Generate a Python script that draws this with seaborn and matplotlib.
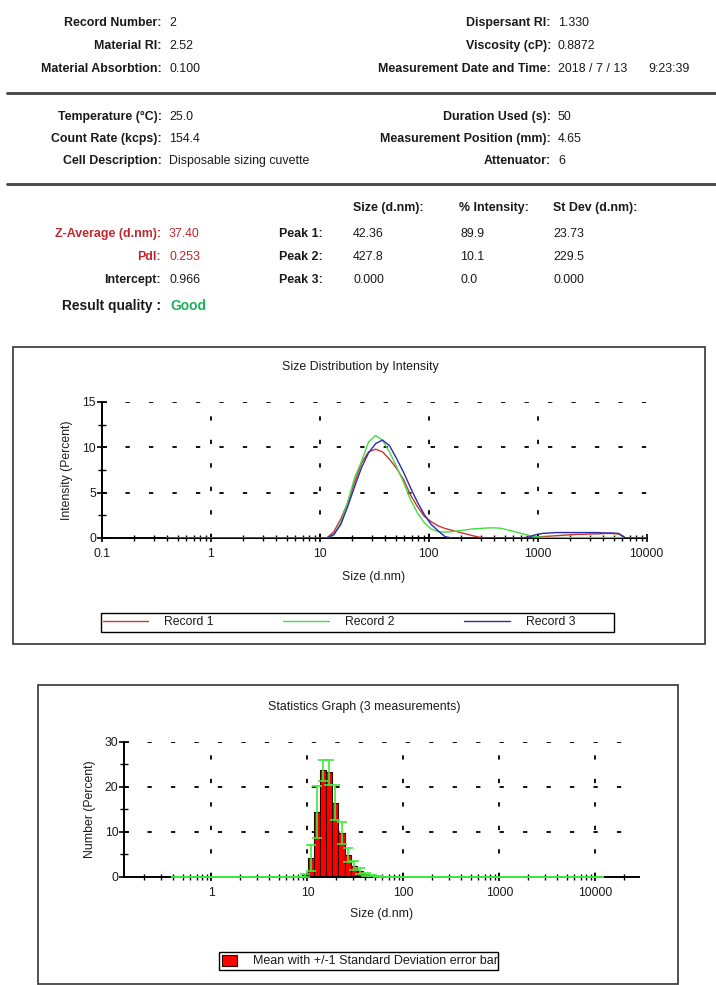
import numpy as np
import pandas as pd
import matplotlib
matplotlib.use("Agg")
import matplotlib.pyplot as plt
import seaborn as sns
from matplotlib.lines import Line2D
from matplotlib.patches import Rectangle, Patch
from matplotlib.ticker import LogLocator, NullFormatter, MultipleLocator

# ---------------- data ----------------
sizes = [0.4000, 0.4632, 0.5365, 0.6213, 0.7195, 0.8332, 0.9649, 1.117, 1.294, 1.499,
         1.736, 2.010, 2.328, 2.696, 3.122, 3.615, 4.187, 4.849, 5.615, 6.503,
         7.531, 8.721, 10.10, 11.70, 13.54, 15.69, 18.17, 21.04, 24.36, 28.21,
         32.67, 37.84, 43.82, 50.75, 58.77, 68.06, 78.82, 91.28, 105.7, 122.4,
         141.8, 164.2, 190.1, 220.2, 255.0, 295.3, 342.0, 396.1, 458.7, 531.2,
         615.1, 712.4, 825.0, 955.4, 1106, 1281, 1484, 1718, 1990, 2305,
         2669, 3091, 3580, 4145, 4801, 5560, 6439, 7456, 8635, 10000]

record1 = [0, 0, 0, 0, 0, 0, 0, 0, 0, 0,
           0, 0, 0, 0, 0, 0, 0, 0, 0, 0,
           0, 0, 0, 0, 0.7, 2.1, 3.9, 6.2, 8.3, 9.5,
           9.8, 9.5, 8.7, 7.7, 6.5, 4.8, 3.5, 2.4, 1.8, 1.35,
           1.05, 0.85, 0.65, 0.45, 0.25, 0.08, 0, 0, 0, 0,
           0, 0.02, 0.05, 0.1, 0.15, 0.2, 0.25, 0.3, 0.35, 0.4,
           0.4, 0.45, 0.45, 0.5, 0.5, 0.45, 0, 0, 0, 0]

record2 = [0, 0, 0, 0, 0, 0, 0, 0, 0, 0,
           0, 0, 0, 0, 0, 0, 0, 0, 0, 0,
           0, 0, 0, 0, 0.3, 1.7, 4.0, 6.7, 8.5, 10.6,
           11.3, 10.8, 9.5, 7.9, 6.2, 4.3, 2.8, 1.7, 1.0, 0.7,
           0.65, 0.7, 0.8, 0.9, 1.0, 1.05, 1.1, 1.12, 1.08, 0.9,
           0.7, 0.5, 0.3, 0.15, 0.08, 0.05, 0.05, 0.05, 0.05, 0.05,
           0.05, 0.05, 0.05, 0.05, 0.05, 0.05, 0, 0, 0, 0]

record3 = [0, 0, 0, 0, 0, 0, 0, 0, 0, 0,
           0, 0, 0, 0, 0, 0, 0, 0, 0, 0,
           0, 0, 0, 0, 0.4, 1.5, 3.5, 5.7, 7.8, 9.4,
           10.4, 10.8, 10.2, 8.8, 7.3, 5.6, 4.0, 2.6, 1.5, 0.8,
           0.15, 0, 0, 0, 0, 0, 0, 0, 0, 0,
           0, 0, 0.1, 0.35, 0.5, 0.55, 0.6, 0.6, 0.6, 0.6,
           0.6, 0.6, 0.6, 0.55, 0.55, 0.5, 0, 0, 0, 0]

number_mean = [0, 0, 0, 0, 0, 0, 0, 0, 0, 0,
               0, 0, 0, 0, 0, 0, 0, 0, 0, 0,
               0, 0.3, 4.1, 14.3, 23.7, 23.2, 16.5, 9.7, 4.8, 2.4,
               1.2, 0.5, 0.2, 0.05, 0, 0, 0, 0, 0, 0,
               0, 0, 0, 0, 0, 0, 0, 0, 0, 0,
               0, 0, 0, 0, 0, 0, 0, 0, 0, 0,
               0, 0, 0, 0, 0, 0, 0, 0, 0, 0]

number_sd = [0, 0, 0, 0, 0, 0, 0, 0, 0, 0,
             0, 0, 0, 0, 0, 0, 0, 0, 0, 0,
             0, 0.3, 2.9, 5.8, 2.3, 2.7, 3.9, 2.5, 1.5, 1.0,
             0.6, 0.35, 0.15, 0.05, 0, 0, 0, 0, 0, 0,
             0, 0, 0, 0, 0, 0, 0, 0, 0, 0,
             0, 0, 0, 0, 0, 0, 0, 0, 0, 0,
             0, 0, 0, 0, 0, 0, 0, 0, 0, 0]

records = ["Record 1", "Record 2", "Record 3"]
record_colors = ["#cc3333", "#44dd44", "#2b2bb0"]

x_ticks1 = [0.1, 1, 10, 100, 1000, 10000]
x_labels1 = ["0.1", "1", "10", "100", "1000", "10000"]
x_ticks2 = [1, 10, 100, 1000, 10000]
x_labels2 = ["1", "10", "100", "1000", "10000"]

header_left = [("Record Number:", "2"), ("Material RI:", "2.52"), ("Material Absorbtion:", "0.100")]
header_right = [("Dispersant RI:", "1.330"), ("Viscosity (cP):", "0.8872"),
                ("Measurement Date and Time:", "2018 / 7 / 13")]
time_text = "9:23:39"
block2_left = [("Temperature (°C):", "25.0"), ("Count Rate (kcps):", "154.4"),
               ("Cell Description:", "Disposable sizing cuvette")]
block2_right = [("Duration Used (s):", "50"), ("Measurement Position (mm):", "4.65"),
                ("Attenuator:", "6")]
result_left = [("Z-Average (d.nm):", "37.40"), ("PdI:", "0.253"), ("Intercept:", "0.966")]
peak_names = ["Peak 1:", "Peak 2:", "Peak 3:"]
peak_cols = ["Size (d.nm):", "% Intensity:", "St Dev (d.nm):"]
peak_size = ["42.36", "427.8", "0.000"]
peak_int = ["89.9", "10.1", "0.0"]
peak_sd = ["23.73", "229.5", "0.000"]

# ---------------- style ----------------
sns.set_theme(style="ticks")
plt.rcParams["font.family"] = ["Liberation Sans", "DejaVu Sans"]
plt.rcParams["axes.linewidth"] = 1.3

W, H = 716, 985
fig = plt.figure(figsize=(W / 100, H / 100), dpi=100)
fig.patch.set_facecolor("white")


def fx(px):
    return px / W


def fy(py):
    return 1 - py / H


TXT = "#1a1a1a"
RED = "#c0272d"
GREEN_TXT = "#1fae5a"
FS = 8.9

# ---------------- header ----------------
rows1 = [23, 46, 69]
for (lab, val), y in zip(header_left, rows1):
    fig.text(fx(162), fy(y), lab, ha="right", va="center", fontsize=FS, fontweight="bold", color=TXT)
    fig.text(fx(169), fy(y), val, ha="left", va="center", fontsize=FS, color=TXT)
for (lab, val), y in zip(header_right, rows1):
    fig.text(fx(551), fy(y), lab, ha="right", va="center", fontsize=FS, fontweight="bold", color=TXT)
    fig.text(fx(558), fy(y), val, ha="left", va="center", fontsize=FS, color=TXT)
fig.text(fx(648), fy(rows1[2]), time_text, ha="left", va="center", fontsize=FS, color=TXT)

rows2 = [117, 139, 161]
for (lab, val), y in zip(block2_left, rows2):
    fig.text(fx(162), fy(y), lab, ha="right", va="center", fontsize=FS, fontweight="bold", color=TXT)
    fig.text(fx(169), fy(y), val, ha="left", va="center", fontsize=FS, color=TXT)
for (lab, val), y in zip(block2_right, rows2):
    fig.text(fx(551), fy(y), lab, ha="right", va="center", fontsize=FS, fontweight="bold", color=TXT)
    fig.text(fx(558), fy(y), val, ha="left", va="center", fontsize=FS, color=TXT)

for ysep in [93, 184]:
    fig.add_artist(Line2D([fx(7), fx(716)], [fy(ysep), fy(ysep)], transform=fig.transFigure,
                          color="#4a4a4a", lw=2.1))

# results block
fig.text(fx(353), fy(208), peak_cols[0], ha="left", va="center", fontsize=FS, fontweight="bold", color=TXT)
fig.text(fx(459), fy(208), peak_cols[1], ha="left", va="center", fontsize=FS, fontweight="bold", color=TXT)
fig.text(fx(553), fy(208), peak_cols[2], ha="left", va="center", fontsize=FS, fontweight="bold", color=TXT)
rows3 = [234, 257, 280]
for i, ((lab, val), y) in enumerate(zip(result_left, rows3)):
    col = RED if i < 2 else TXT
    fig.text(fx(161), fy(y), lab, ha="right", va="center", fontsize=FS, fontweight="bold", color=col)
    fig.text(fx(169), fy(y), val, ha="left", va="center", fontsize=FS, color=col)
    fig.text(fx(323), fy(y), peak_names[i], ha="right", va="center", fontsize=FS, fontweight="bold", color=TXT)
    fig.text(fx(353), fy(y), peak_size[i], ha="left", va="center", fontsize=FS, color=TXT)
    fig.text(fx(460), fy(y), peak_int[i], ha="left", va="center", fontsize=FS, color=TXT)
    fig.text(fx(553), fy(y), peak_sd[i], ha="left", va="center", fontsize=FS, color=TXT)
fig.text(fx(161), fy(306), "Result quality :", ha="right", va="center", fontsize=9.9, fontweight="bold", color=TXT)
fig.text(fx(170), fy(306), "Good", ha="left", va="center", fontsize=9.9, fontweight="bold", color=GREEN_TXT)

# ---------------- frames ----------------
fig.add_artist(Rectangle((fx(13), fy(644)), (705 - 13) / W, (644 - 347) / H, transform=fig.transFigure,
                         fill=False, ec="#444444", lw=1.3))
fig.add_artist(Rectangle((fx(38), fy(984)), (678 - 38) / W, (984 - 685) / H, transform=fig.transFigure,
                         fill=False, ec="#444444", lw=1.3))

GRID_LS = (0, (2.4, 10.6))

# ---------------- plot 1: size distribution by intensity ----------------
ax1 = fig.add_axes([fx(101.5), fy(538), (646.5 - 101.5) / W, (538 - 402) / H])
ax1.set_xscale("log")
df = pd.DataFrame({
    "size": sizes * 3,
    "intensity": record1 + record2 + record3,
    "record": [r for r in records for _ in sizes],
})
sns.lineplot(data=df, x="size", y="intensity", hue="record", hue_order=records,
             palette=dict(zip(records, record_colors)), estimator=None, sort=False,
             lw=1.0, ax=ax1, legend=False, zorder=3)
ax1.set_xlim(0.1, 10000)
ax1.set_ylim(0, 15)
for v in [1, 10, 100, 1000]:
    ax1.axvline(v, color="black", lw=1.3, ls=GRID_LS, zorder=1)
for v in [5, 10, 15]:
    ax1.axhline(v, color="black", lw=1.3, ls=GRID_LS, zorder=1)
ax1.set_xticks(x_ticks1)
ax1.set_xticklabels(x_labels1)
ax1.xaxis.set_minor_locator(LogLocator(base=10, subs=range(2, 10)))
ax1.xaxis.set_minor_formatter(NullFormatter())
ax1.set_yticks([0, 5, 10, 15])
ax1.yaxis.set_minor_locator(MultipleLocator(2.5))
ax1.tick_params(axis="x", which="major", direction="inout", length=6, width=1.2, pad=4.5,
                labelsize=8.8, color="black", labelcolor=TXT)
ax1.tick_params(axis="x", which="minor", direction="inout", length=5, width=1.0, color="black")
ax1.tick_params(axis="y", which="major", direction="inout", length=7, width=1.2, pad=0.5,
                labelsize=8.8, color="black", labelcolor=TXT)
ax1.tick_params(axis="y", which="minor", direction="inout", length=6, width=1.0, color="black")
for s in ["top", "right"]:
    ax1.spines[s].set_visible(False)
for s in ["left", "bottom"]:
    ax1.spines[s].set_color("black")
    ax1.spines[s].set_linewidth(1.4)
ax1.set_facecolor("white")
ax1.set_xlabel("Size (d.nm)", fontsize=8.8, color=TXT, va="top")
ax1.xaxis.set_label_coords(0.5, (538 - 571) / 136)
ax1.set_ylabel("Intensity (Percent)", fontsize=8.8, color=TXT)
ax1.yaxis.set_label_coords((73 - 101.5) / 545, 0.5)
fig.text(fx(360), fy(367), "Size Distribution by Intensity", ha="center", va="center", fontsize=8.9, color=TXT)

# legend 1
handles1 = [Line2D([], [], color=c, lw=1.0) for c in record_colors]
leg1 = fig.legend(handles1, records, ncol=3, loc="center left",
                  bbox_to_anchor=(fx(102.5), fy(622)), bbox_transform=fig.transFigure,
                  frameon=False, handlelength=3.7, handletextpad=1.35, columnspacing=5.7,
                  borderpad=0.0, borderaxespad=0, fontsize=8.8)
for t in leg1.get_texts():
    t.set_color(TXT)
fig.add_artist(Rectangle((fx(101), fy(631.7)), (614 - 101) / W, (631.7 - 612.7) / H,
                         transform=fig.transFigure, fill=False, ec="black", lw=1.0))

# ---------------- plot 2: statistics graph ----------------
ax2 = fig.add_axes([fx(124), fy(876.5), (639 - 124) / W, (876.5 - 742) / H])
ax2.set_xscale("log")
sizes_arr = np.array(sizes)
right_edges = np.append(sizes_arr[1:], sizes_arr[-1] * sizes_arr[-1] / sizes_arr[-2])
widths = right_edges - sizes_arr
centers = np.sqrt(sizes_arr * right_edges)
ax2.bar(sizes_arr, number_mean, width=widths, align="edge", color="#ff0000",
        edgecolor="#2a0000", lw=0.8, zorder=2)
ax2.errorbar(centers, number_mean, yerr=number_sd, fmt="none", ecolor="#3dea3d",
             elinewidth=1.2, capsize=3.6, capthick=1.2, zorder=3)
ax2.set_xlim(0.1227, 28400)
ax2.set_ylim(0, 30)
for v in [1, 10, 100, 1000, 10000]:
    ax2.axvline(v, color="black", lw=1.3, ls=GRID_LS, zorder=1)
for v in [10, 20, 30]:
    ax2.axhline(v, color="black", lw=1.3, ls=GRID_LS, zorder=1)
ax2.set_xticks(x_ticks2)
ax2.set_xticklabels(x_labels2)
ax2.xaxis.set_minor_locator(LogLocator(base=10, subs=range(2, 10)))
ax2.xaxis.set_minor_formatter(NullFormatter())
ax2.set_yticks([0, 10, 20, 30])
ax2.yaxis.set_minor_locator(MultipleLocator(5))
ax2.tick_params(axis="x", which="major", direction="inout", length=6, width=1.2, pad=4.5,
                labelsize=8.8, color="black", labelcolor=TXT)
ax2.tick_params(axis="x", which="minor", direction="inout", length=5, width=1.0, color="black")
ax2.tick_params(axis="y", which="major", direction="inout", length=7, width=1.2, pad=0.5,
                labelsize=8.8, color="black", labelcolor=TXT)
ax2.tick_params(axis="y", which="minor", direction="inout", length=6, width=1.0, color="black")
for s in ["top", "right"]:
    ax2.spines[s].set_visible(False)
for s in ["left", "bottom"]:
    ax2.spines[s].set_color("black")
    ax2.spines[s].set_linewidth(1.4)
ax2.set_facecolor("white")
ax2.set_xlabel("Size (d.nm)", fontsize=8.8, color=TXT, va="top")
ax2.xaxis.set_label_coords(0.5, (876.5 - 908) / 134.5)
ax2.set_ylabel("Number (Percent)", fontsize=8.8, color=TXT)
ax2.yaxis.set_label_coords((96 - 124) / 515, 0.5)
fig.text(fx(364), fy(707), "Statistics Graph (3 measurements)", ha="center", va="center", fontsize=8.9, color=TXT)

# legend 2
handles2 = [Patch(facecolor="#ff0000", edgecolor="#2a0000", lw=0.8)]
leg2 = fig.legend(handles2, ["Mean with +/-1 Standard Deviation error bar"], loc="center left",
                  bbox_to_anchor=(fx(221.5), fy(961)), bbox_transform=fig.transFigure,
                  frameon=False, handlelength=1.2, handleheight=1.0, handletextpad=1.3,
                  borderpad=0.0, borderaxespad=0, fontsize=9.0)
for t in leg2.get_texts():
    t.set_color(TXT)
fig.add_artist(Rectangle((fx(219.3), fy(970)), (497.7 - 219.3) / W, (970 - 951.7) / H,
                         transform=fig.transFigure, fill=False, ec="black", lw=1.0))

fig.savefig("out.png", dpi=100, facecolor="white")
